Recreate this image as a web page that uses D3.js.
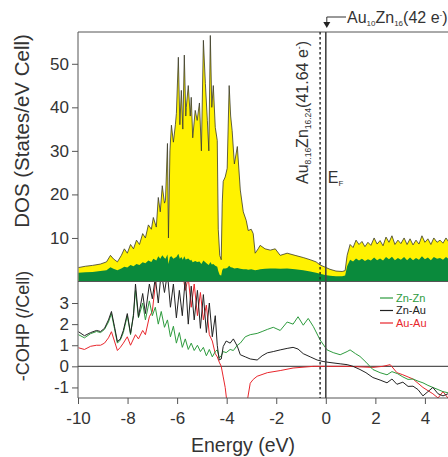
<!DOCTYPE html>
<html>
<head>
<meta charset="utf-8">
<script src="https://cdn.jsdelivr.net/npm/d3@7"></script>
<style>
  body { margin: 0; background: #fff; }
  svg text { font-family: "Liberation Sans", Arial, sans-serif; fill: #333; }
</style>
</head>
<body>
<div id="chart"></div>
<script>
// --- data ---
const dosEnergy = [-9.98,-9.70,-9.41,-9.10,-8.85,-8.69,-8.57,-8.41,-8.25,-8.13,-8.01,-7.88,-7.76,-7.64,-7.52,-7.39,-7.28,-7.16,-7.04,-6.96,-6.84,-6.76,-6.68,-6.60,-6.51,-6.47,-6.39,-6.35,-6.29,-6.23,-6.15,-6.07,-6.03,-5.95,-5.89,-5.83,-5.77,-5.71,-5.65,-5.63,-5.55,-5.47,-5.43,-5.37,-5.27,-5.19,-5.10,-5.02,-4.94,-4.86,-4.78,-4.72,-4.66,-4.60,-4.54,-4.46,-4.38,-4.34,-4.28,-4.22,-4.18,-4.14,-4.06,-3.98,-3.90,-3.84,-3.78,-3.69,-3.57,-3.45,-3.33,-3.21,-3.13,-3.01,-2.93,-2.85,-2.73,-2.65,-2.45,-2.24,-2.04,-1.84,-1.56,-1.24,-0.91,-0.63,-0.39,-0.23,-0.03,0.17,0.41,0.66,0.78,0.86,0.98,1.10,1.22,1.34,1.46,1.58,1.70,1.82,1.95,2.07,2.19,2.31,2.43,2.55,2.67,2.79,2.91,3.03,3.16,3.28,3.40,3.52,3.64,3.76,3.88,4.00,4.12,4.24,4.36,4.49,4.61,4.73,4.85,4.97];
const dosTotal = [3.2,3.5,3.7,4.0,4.5,6.0,5.2,4.5,6.0,7.5,6.5,8.5,7.5,9.5,8.5,11.0,10.0,13.0,12.0,14.7,12.5,19.3,16.0,22.0,18.0,18.6,31.7,10,30,35.9,32,36,38.6,51.5,36,43.9,35,52,38,40,45,38,42.3,33,39.3,37,41,30,55.4,45.5,37,30,56.5,40,45,35.4,32.4,12,6,5,18,23,24,26,45,38,34.7,27,31,21,16,14,11.7,12,11,6.5,7.5,8.3,7.5,7.2,7.5,6,6.5,6,5.5,5,4.5,3.8,3.3,2.8,2.4,2.3,2.5,6,8.5,7.8,9.5,8.5,9.2,8,9,8.3,10,8.6,9.4,8.2,10.2,9,10.5,8.5,9.5,8.7,10,8.5,9.8,8.4,9.5,8.6,10.5,9,9.8,8.5,10,9,9.5,8.8,10,9];
const dosZn = [2.0,2.1,2.2,2.4,2.6,3.3,2.9,2.6,3.0,3.4,3.2,3.8,3.5,4.0,3.8,4.4,4.2,4.8,4.5,5.2,4.8,5.8,5.2,6.0,5.4,5.2,6.2,4.0,5.6,5.8,5.2,5.5,5.6,6.4,5.2,5.6,5.0,5.8,5.0,5.1,5.3,4.8,5.0,4.4,4.7,4.5,4.6,4.0,4.8,4.4,4.0,3.8,4.5,3.9,4.0,3.6,3.4,2.4,1.5,1.4,2.6,3.0,3.0,3.1,3.6,3.3,3.2,3.0,3.1,2.9,2.8,2.8,2.7,2.8,2.7,2.6,2.7,2.8,2.9,3.0,3.0,2.9,3.0,2.8,2.6,2.3,2.0,1.8,1.5,1.3,1.2,1.2,1.4,3.5,5.0,4.6,5.3,4.8,5.2,4.7,5.1,4.8,5.5,4.9,5.3,4.8,5.6,5.1,5.7,4.9,5.4,5.0,5.6,4.9,5.5,4.9,5.4,5.0,5.8,5.1,5.5,4.9,5.6,5.2,5.4,5.0,5.6,5.1];

const znAuEnergy = [-9.98,-9.74,-9.49,-9.25,-9.09,-8.93,-8.77,-8.65,-8.53,-8.41,-8.29,-8.17,-8.01,-7.88,-7.76,-7.68,-7.56,-7.39,-7.28,-7.12,-7.00,-6.88,-6.76,-6.64,-6.51,-6.39,-6.27,-6.15,-6.03,-5.91,-5.79,-5.67,-5.55,-5.43,-5.31,-5.18,-5.06,-4.94,-4.82,-4.70,-4.58,-4.46,-4.38,-4.30,-4.22,-4.14,-4.02,-3.86,-3.73,-3.57,-3.45,-3.25,-3.05,-2.77,-2.57,-2.36,-2.12,-1.84,-1.56,-1.32,-1.12,-0.91,-0.63,-0.35,-0.11,0.17,0.58,0.86,1.10,1.38,1.62,1.90,2.19,2.47,2.67,2.87,3.11,3.32,3.52,3.72,3.92,4.12,4.32,4.53,4.73,4.93];
const znAu = [1.64,1.45,1.6,1.7,1.65,1.8,2.2,2.6,1.9,1.17,1.3,1.7,2.5,1.56,2.4,3.9,2.35,3.45,2.5,3.9,3.2,4.2,3.0,4.5,3.5,4.4,2.8,3.9,2.3,3.6,2.4,4.2,2.0,3.8,2.2,3.6,1.8,3.4,1.6,3.0,1.4,2.4,1.0,0.3,0.35,0.94,1.2,1.1,1.3,0.95,0.55,0.45,0.35,0.3,0.5,0.64,0.7,0.78,0.85,0.9,0.82,0.6,0.45,0.3,0.23,0.18,0.12,0.08,0.0,-0.15,-0.3,-0.53,-0.65,-0.78,-0.6,-0.85,-0.75,-0.95,-0.94,-1.1,-1.4,-1.2,-1.0,-1.3,-1.4,-1.3];

const znZnEnergy = [-9.98,-9.74,-9.49,-9.25,-9.09,-8.93,-8.77,-8.65,-8.53,-8.41,-8.29,-8.17,-8.01,-7.88,-7.76,-7.68,-7.56,-7.39,-7.28,-7.12,-7.00,-6.88,-6.76,-6.64,-6.51,-6.39,-6.27,-6.15,-6.03,-5.91,-5.79,-5.67,-5.55,-5.43,-5.31,-5.18,-5.06,-4.94,-4.82,-4.70,-4.58,-4.46,-4.38,-4.30,-4.22,-4.14,-4.02,-3.86,-3.73,-3.57,-3.45,-3.25,-3.05,-2.77,-2.57,-2.36,-2.12,-1.84,-1.56,-1.32,-1.12,-0.91,-0.71,-0.50,-0.23,0.05,0.30,0.58,0.86,0.98,1.20,1.38,1.62,1.90,2.19,2.47,2.67,2.90,3.11,3.32,3.52,3.72,3.92,4.12,4.32,4.53,4.73,4.93];
const znZn = [1.5,1.35,1.55,1.65,1.6,1.75,2.1,2.5,1.8,1.1,1.25,1.6,2.4,1.5,2.5,3.6,2.3,3.0,2.2,3.1,2.4,2.8,2.0,2.6,1.85,2.2,1.4,1.9,1.1,1.6,0.9,1.3,0.8,1.1,0.75,1.0,0.7,0.9,0.5,0.8,0.45,0.7,0.78,0.4,0.5,0.7,0.65,0.8,0.75,1.0,1.1,1.4,1.5,1.56,1.65,1.75,1.85,1.7,2.1,2.0,2.35,1.95,2.27,1.88,1.25,0.78,0.65,0.55,0.7,0.78,0.6,0.47,0.2,-0.15,-0.3,-0.4,-0.25,-0.35,-0.5,-0.62,-0.6,-0.7,-0.78,-0.9,-1.0,-1.1,-1.2,-1.25];

const auAuEnergy = [-9.98,-9.74,-9.49,-9.25,-9.09,-8.93,-8.77,-8.65,-8.53,-8.41,-8.29,-8.17,-8.01,-7.88,-7.76,-7.68,-7.56,-7.39,-7.28,-7.12,-7.00,-6.88,-6.76,-6.64,-6.39,-6.00,-5.79,-5.67,-5.55,-5.43,-5.31,-5.18,-5.06,-4.94,-4.82,-4.70,-4.58,-4.46,-4.38,-4.30,-4.22,-4.14,-4.06,-4.00,-3.90,-3.30,-3.15,-3.05,-2.93,-2.77,-2.36,-1.84,-1.32,-0.50,0.86,1.90,2.30,2.60,2.87,3.11,3.52,3.92,4.32,4.53,4.73,4.93];
const auAu = [0.88,0.8,0.95,1.0,1.0,1.1,1.35,1.64,1.2,0.75,0.9,1.1,1.4,1.0,1.3,1.5,1.3,1.7,1.5,2.35,2.6,3.9,4.5,4.8,5,5,4.5,3.6,4.2,2.8,3.9,2.4,3.5,2.2,2.9,1.5,1.2,0.6,0.45,0.2,0.0,-0.5,-1.0,-1.6,-3,-3,-1.5,-0.8,-0.62,-0.47,-0.3,-0.2,-0.08,0.0,0.0,-0.05,0.0,0.08,-0.3,-0.4,-0.6,-1.0,-1.3,-1.5,-1.2,-1.5];

const xTicks = [-10, -8, -6, -4, -2, 0, 2, 4];
const dosTicks = [10, 20, 30, 40, 50];
const cohpTicks = [-1, 0, 1, 2, 3];
const seriesNames = ["Zn-Zn", "Zn-Au", "Au-Au"];
const seriesColors = ["#2e9b3e", "#222222", "#e8262c"];
const eHalfFilled = -0.23; // 41.64 e-

// --- layout ---
const width = 448, height = 457;
const left = 78, right = 449.7;
const dosTop = 32, dosBottom = 281.5, cohpBottom = 398;
const axisColor = "#555";

const svg = d3.select("#chart").append("svg")
    .attr("width", width).attr("height", height);

const x = d3.scaleLinear().domain([-10, 5]).range([left, right]);
const yDos = d3.scaleLinear().domain([0, 57.3]).range([dosBottom, dosTop]);
const yCohp = d3.scaleLinear().domain([-1.5, 4.02]).range([cohpBottom, dosBottom]);

svg.append("defs").append("clipPath").attr("id", "cohpClip")
  .append("rect").attr("x", left).attr("y", dosBottom)
  .attr("width", right - left).attr("height", cohpBottom - dosBottom);

// DOS areas
const dos = dosEnergy.map((e, i) => ({ e: e, t: dosTotal[i], z: dosZn[i] }));
const areaTotal = d3.area().x(d => x(d.e)).y0(yDos(0)).y1(d => yDos(d.t));
const areaZn = d3.area().x(d => x(d.e)).y0(yDos(0)).y1(d => yDos(d.z));

svg.append("path").datum(dos).attr("d", areaTotal).attr("fill", "#fff200");
svg.append("path").datum(dos)
  .attr("d", d3.line().x(d => x(d.e)).y(d => yDos(d.t)))
  .attr("fill", "none").attr("stroke", "#3a3a2a").attr("stroke-width", 0.8);
svg.append("path").datum(dos).attr("d", areaZn).attr("fill", "#0a8a3c");

// COHP lines
const cohpSeries = [
  { e: znZnEnergy, v: znZn },
  { e: znAuEnergy, v: znAu },
  { e: auAuEnergy, v: auAu }
];
const cohpLine = d3.line().x(d => x(d[0])).y(d => yCohp(d[1]));
const gCohp = svg.append("g").attr("clip-path", "url(#cohpClip)");
gCohp.append("line")
  .attr("x1", left).attr("x2", right)
  .attr("y1", yCohp(0)).attr("y2", yCohp(0))
  .attr("stroke", axisColor).attr("stroke-width", 1.2);
// draw red first, then green, then black on top
[2, 0, 1].forEach(k => {
  const s = cohpSeries[k];
  gCohp.append("path")
    .datum(s.e.map((e, i) => [e, s.v[i]]))
    .attr("d", cohpLine)
    .attr("fill", "none")
    .attr("stroke", seriesColors[k])
    .attr("stroke-width", 1);
});

// frame lines
svg.append("line").attr("x1", left).attr("x2", width).attr("y1", dosTop).attr("y2", dosTop)
  .attr("stroke", axisColor).attr("stroke-width", 1);
svg.append("line").attr("x1", left).attr("x2", width).attr("y1", dosBottom).attr("y2", dosBottom)
  .attr("stroke", axisColor).attr("stroke-width", 1);

// axes
const fmt = d => String(d);
const gy1 = svg.append("g").attr("transform", `translate(${left},0)`)
  .call(d3.axisLeft(yDos).tickValues(dosTicks).tickSize(6).tickPadding(3).tickFormat(fmt));
gy1.select(".domain").remove();
const gy2 = svg.append("g").attr("transform", `translate(${left},0)`)
  .call(d3.axisLeft(yCohp).tickValues(cohpTicks).tickSize(6).tickPadding(3).tickFormat(fmt));
gy2.select(".domain").remove();
const gx = svg.append("g").attr("transform", `translate(0,${cohpBottom})`)
  .call(d3.axisBottom(x).tickValues(xTicks).tickSize(6).tickPadding(8).tickFormat(fmt));
gx.select(".domain").attr("d", `M${left},0H${width}`);

[gy1, gy2, gx].forEach(g => {
  g.selectAll("text").attr("font-size", 17).attr("fill", "#333")
    .attr("font-family", "Liberation Sans, Arial, sans-serif");
  g.selectAll("line").attr("stroke", axisColor);
  g.selectAll(".domain").attr("stroke", axisColor);
});
svg.append("line").attr("x1", left).attr("x2", left).attr("y1", dosTop).attr("y2", cohpBottom)
  .attr("stroke", axisColor).attr("stroke-width", 1);

// Fermi level and 41.64 e- lines
svg.append("line").attr("x1", x(0)).attr("x2", x(0)).attr("y1", dosTop).attr("y2", cohpBottom)
  .attr("stroke", "#444").attr("stroke-width", 1.6);
svg.append("line").attr("x1", x(eHalfFilled)).attr("x2", x(eHalfFilled))
  .attr("y1", dosTop).attr("y2", cohpBottom)
  .attr("stroke", "#222").attr("stroke-width", 1.4).attr("stroke-dasharray", "2.5,2.5");

// axis titles
svg.append("text").attr("transform", "translate(29,131) rotate(-90)")
  .attr("text-anchor", "middle").attr("font-size", 20.5).text("DOS (States/eV Cell)");
svg.append("text").attr("transform", "translate(29,326) rotate(-90)")
  .attr("text-anchor", "middle").attr("font-size", 18).text("-COHP (/Cell)");
svg.append("text").attr("x", 243).attr("y", 452)
  .attr("text-anchor", "middle").attr("font-size", 19.5).text("Energy (eV)");

// E_F label
const ef = svg.append("text").attr("x", x(0) + 2).attr("y", 183).attr("font-size", 16);
ef.append("tspan").text("E");
ef.append("tspan").attr("font-size", 8).attr("dy", 3).text("F");

// rotated composition label
const lab = svg.append("text").attr("transform", `translate(${x(eHalfFilled) - 12},184) rotate(-90)`)
  .attr("font-size", 16);
lab.append("tspan").text("Au");
lab.append("tspan").attr("font-size", 8.5).attr("dy", 3).text("8.16");
lab.append("tspan").attr("dy", -3).text("Zn");
lab.append("tspan").attr("font-size", 8.5).attr("dy", 3).text("16.24");
lab.append("tspan").attr("dy", -3).text("(41.64 e");
lab.append("tspan").attr("font-size", 9).attr("dy", -6).text("-");
lab.append("tspan").attr("dy", 6).text(")");

// top annotation with arrow
svg.append("path").attr("d", `M346,17H${x(0) + 1}V22`)
  .attr("fill", "none").attr("stroke", "#333").attr("stroke-width", 1);
svg.append("path").attr("d", `M${x(0) - 2.5},22L${x(0) + 4.5},22L${x(0) + 1},28Z`).attr("fill", "#222");
const topLabel = svg.append("text").attr("x", 347).attr("y", 23).attr("font-size", 16);
topLabel.append("tspan").text("Au");
topLabel.append("tspan").attr("font-size", 8).attr("dy", 3).text("10");
topLabel.append("tspan").attr("dy", -3).text("Zn");
topLabel.append("tspan").attr("font-size", 8).attr("dy", 3).text("16");
topLabel.append("tspan").attr("dy", -3).text("(42 e");
topLabel.append("tspan").attr("font-size", 8).attr("dy", -6).text("-");
topLabel.append("tspan").attr("dy", 6).text(")");

// legend
const leg = svg.append("g").attr("transform", "translate(380,298)");
seriesNames.forEach((n, i) => {
  const g = leg.append("g").attr("transform", `translate(0,${i * 12.5})`);
  g.append("line").attr("x1", 0).attr("x2", 13).attr("stroke", seriesColors[i]).attr("stroke-width", 1.2);
  g.append("text").attr("x", 16).attr("dy", "0.35em").attr("font-size", 11)
    .style("fill", seriesColors[i]).text(n);
});
</script>
</body>
</html>
